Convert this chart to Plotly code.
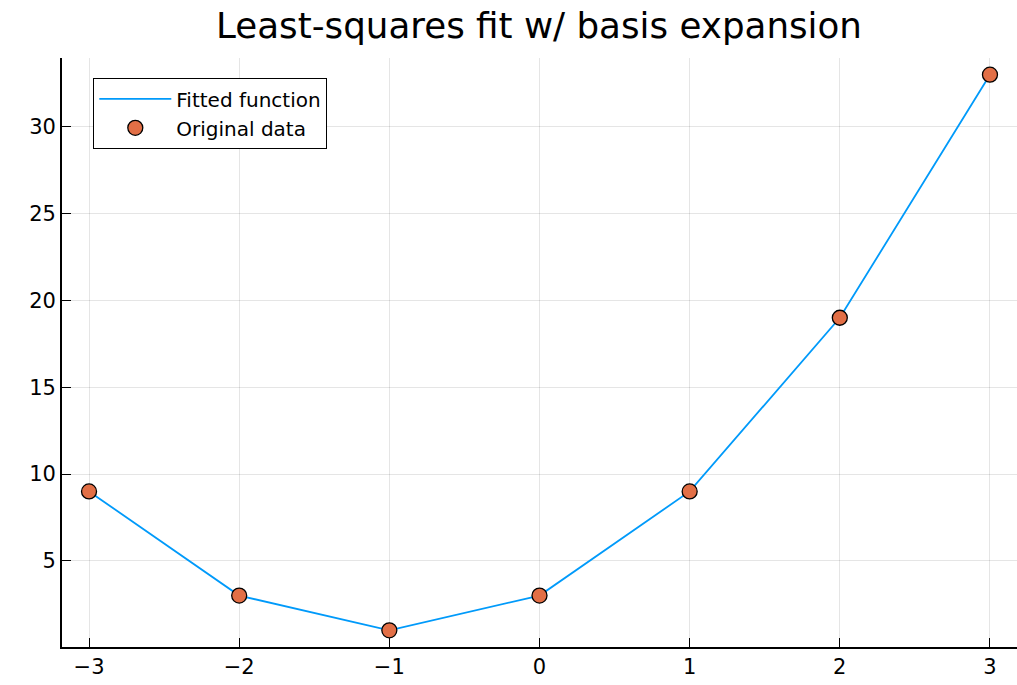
import plotly.graph_objects as go

x_vals = [-3, -2, -1, 0, 1, 2, 3]
y_data = [9, 3, 1, 3, 9, 19, 33]
y_fit = [9, 3, 1, 3, 9, 19, 33]
x_ticks = [-3, -2, -1, 0, 1, 2, 3]
y_ticks = [5, 10, 15, 20, 25, 30]

fig = go.Figure()
fig.add_trace(go.Scatter(x=x_vals, y=y_fit, mode="lines", name="Fitted function",
                         line=dict(color="#009AFA", width=1.8)))
fig.add_trace(go.Scatter(x=x_vals, y=y_data, mode="markers", name="Original data",
                         marker=dict(color="#E26F46", size=15, line=dict(color="black", width=1.3))))

font = "DejaVu Sans"
fig.update_layout(
    width=1017, height=685,
    margin=dict(l=62, r=0, t=58, b=38),
    paper_bgcolor="white", plot_bgcolor="white",
    title=dict(text="Least-squares fit w/ basis expansion", x=0.53, xanchor="center",
               y=1 - 26/685, yanchor="middle",
               font=dict(family=font, size=35.7, color="black")),
    font=dict(family=font, size=20, color="black"),
    showlegend=True,
    legend=dict(x=(93-62)/955, y=1 - (78-58)/589, xanchor="left", yanchor="top",
                bordercolor="black", borderwidth=1.3, bgcolor="white",
                font=dict(family=font, size=20), tracegroupgap=0, itemwidth=72),
    xaxis=dict(range=[-3.18, 3.18], tickvals=x_ticks, showgrid=True,
               gridcolor="rgba(0,0,0,0.1)", gridwidth=1, zeroline=False,
               showline=True, linecolor="black", linewidth=1.8,
               ticks="inside", ticklen=9, tickwidth=1.2, tickcolor="black",
               tickfont=dict(family=font, size=21), mirror=False),
    yaxis=dict(range=[0.04, 33.96], tickvals=y_ticks, showgrid=True,
               gridcolor="rgba(0,0,0,0.1)", gridwidth=1, zeroline=False,
               showline=True, linecolor="black", linewidth=1.8,
               ticks="inside", ticklen=9, tickwidth=1.2, tickcolor="black",
               tickfont=dict(family=font, size=21), mirror=False),
)
fig.write_html("out.html")
